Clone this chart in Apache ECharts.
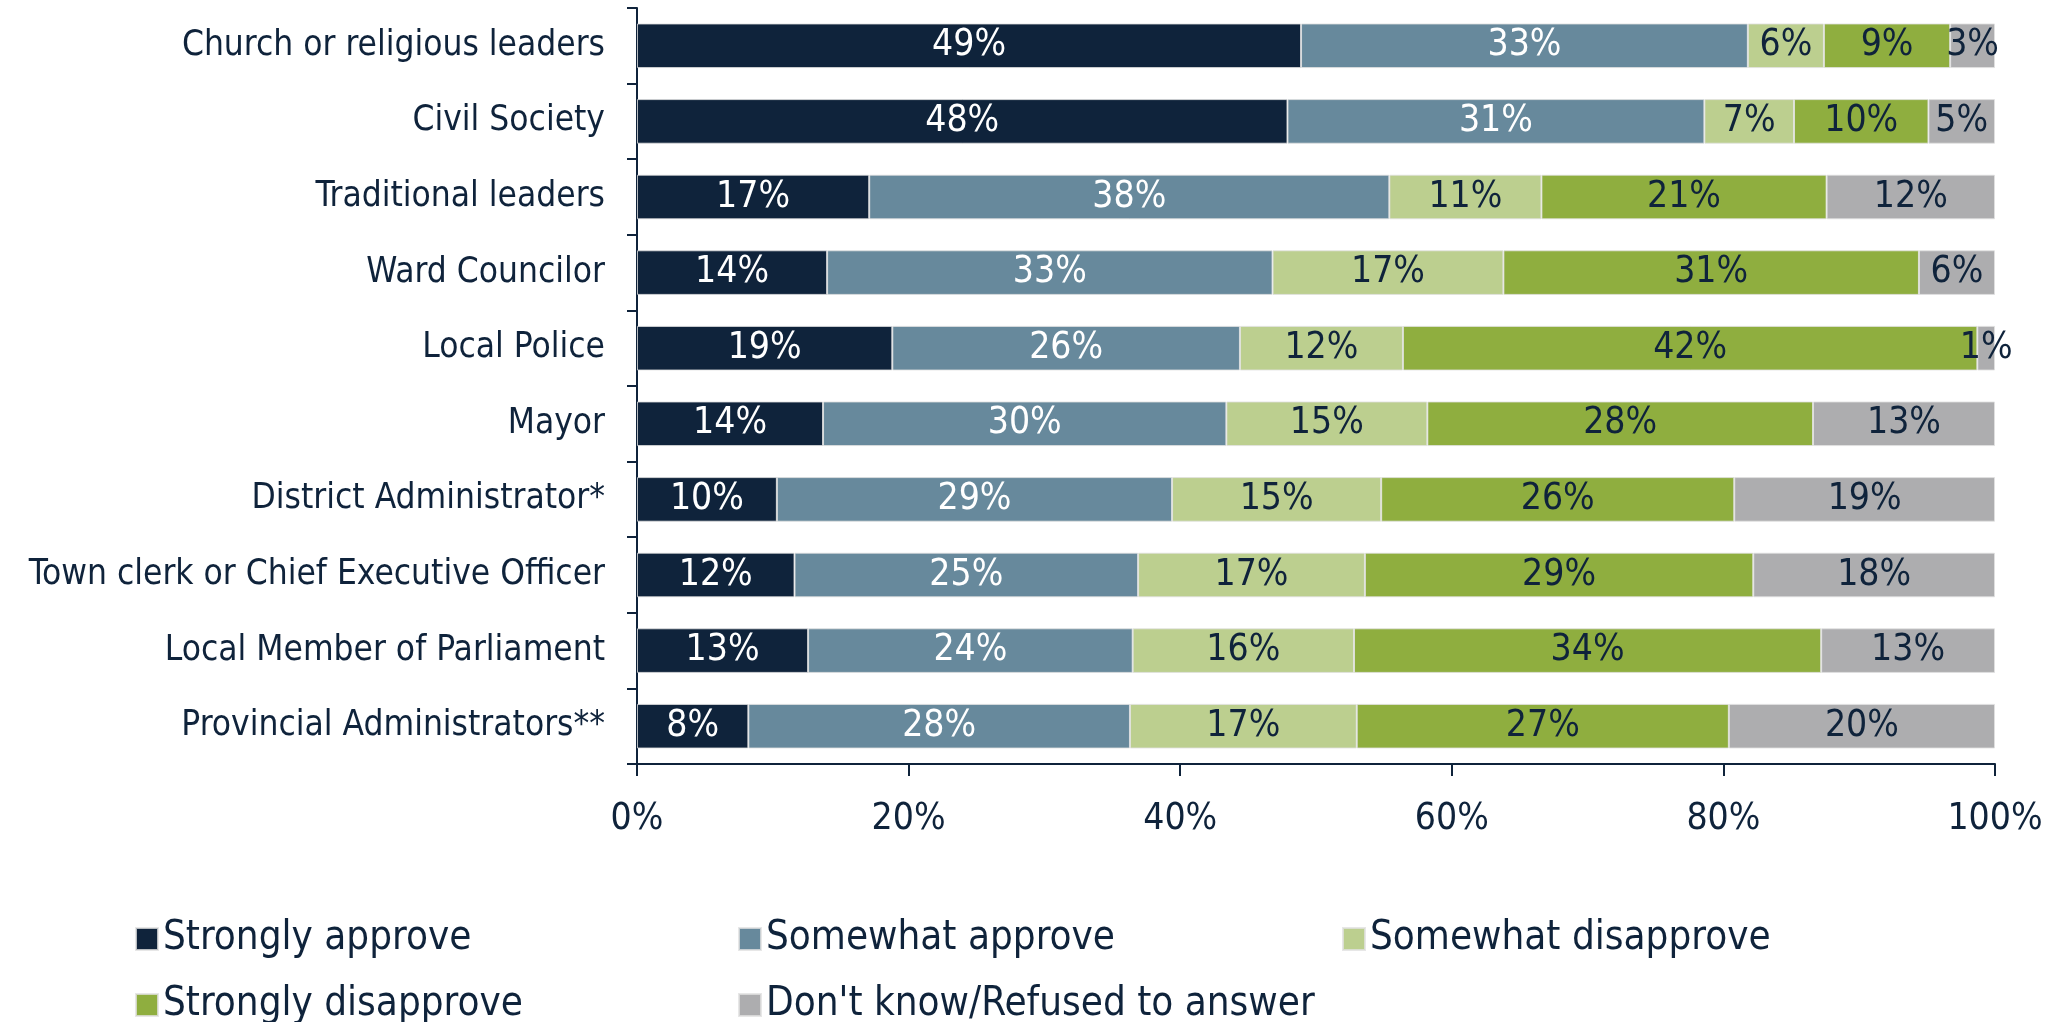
<!DOCTYPE html>
<html>
<head>
<meta charset="utf-8">
<script src="https://cdn.jsdelivr.net/npm/echarts@6/dist/echarts.min.js"></script>
<style>
html,body{margin:0;padding:0;background:#fff;}
#chart{width:2049px;height:1022px;}
</style>
</head>
<body>
<div id="chart"></div>
<script>
const categories = [
  'Church or religious leaders',
  'Civil Society',
  'Traditional leaders',
  'Ward Councilor',
  'Local Police',
  'Mayor',
  'District Administrator*',
  'Town clerk or Chief Executive Officer',
  'Local Member of Parliament',
  'Provincial Administrators**'
];
const seriesNames = ['Strongly approve', 'Somewhat approve', 'Somewhat disapprove', 'Strongly disapprove', "Don't know/Refused to answer"];
const stronglyApprove    = [48.9, 47.9, 17.1, 14.0, 18.8, 13.7, 10.3, 11.6, 12.6, 8.2];
const somewhatApprove    = [32.9, 30.7, 38.3, 32.8, 25.6, 29.7, 29.1, 25.3, 23.9, 28.1];
const somewhatDisapprove = [5.6, 6.6, 11.2, 17.0, 12.0, 14.8, 15.4, 16.7, 16.3, 16.7];
const stronglyDisapprove = [9.3, 9.9, 21.0, 30.6, 42.3, 28.4, 26.0, 28.6, 34.4, 27.4];
const dontKnow           = [3.3, 4.9, 12.4, 5.6, 1.3, 13.4, 19.2, 17.8, 12.8, 19.6];
const xTicks = [0, 20, 40, 60, 80, 100];

const seriesData = [stronglyApprove, somewhatApprove, somewhatDisapprove, stronglyDisapprove, dontKnow];
const colors = ['#0f233b', '#67899c', '#bccf8f', '#8fae3f', '#adadaf'];
const labelColors = ['#ffffff', '#ffffff', '#0f233b', '#0f233b', '#0f233b'];
const navy = '#0f233b';
const condFont = "'DejaVu Sans Condensed', 'Liberation Sans Narrow', sans-serif";

const legendLeft = [130, 733, 1337, 130, 733];
const legendTop  = [914, 914, 914, 980, 980];

const chart = echarts.init(document.getElementById('chart'));
chart.setOption({
  animation: false,
  backgroundColor: '#ffffff',
  grid: { left: 637, right: 54, top: 8, bottom: 258, containLabel: false },
  xAxis: {
    type: 'value',
    min: xTicks[0], max: xTicks[xTicks.length - 1], interval: 20,
    splitLine: { show: false },
    axisLine: { show: true, lineStyle: { color: navy, width: 2 } },
    axisTick: { show: true, length: 12, lineStyle: { color: navy, width: 2 } },
    axisLabel: { formatter: '{value}%', margin: 37, color: navy, fontSize: 37, fontFamily: condFont }
  },
  yAxis: {
    type: 'category',
    inverse: true,
    data: categories,
    axisLine: { show: true, lineStyle: { color: navy, width: 2 } },
    axisTick: { show: true, length: 10, lineStyle: { color: navy, width: 2 } },
    axisLabel: { margin: 32, color: navy, fontSize: 35, fontFamily: condFont }
  },
  legend: seriesNames.map((n, i) => ({
    data: [n],
    left: legendLeft[i],
    top: legendTop[i],
    itemWidth: 22,
    itemHeight: 22,
    icon: 'rect',
    textStyle: { color: navy, fontSize: 40, fontFamily: condFont }
  })),
  series: seriesNames.map((n, i) => ({
    name: n,
    type: 'bar',
    stack: 'total',
    barWidth: '59%',
    data: seriesData[i],
    itemStyle: { color: colors[i], borderColor: 'rgba(225,225,225,0.8)', borderWidth: 1 },
    label: {
      show: true,
      position: 'inside',
      formatter: p => Math.round(p.value) + '%',
      color: labelColors[i],
      fontSize: 37,
      fontFamily: condFont
    }
  }))
});
</script>
</body>
</html>
